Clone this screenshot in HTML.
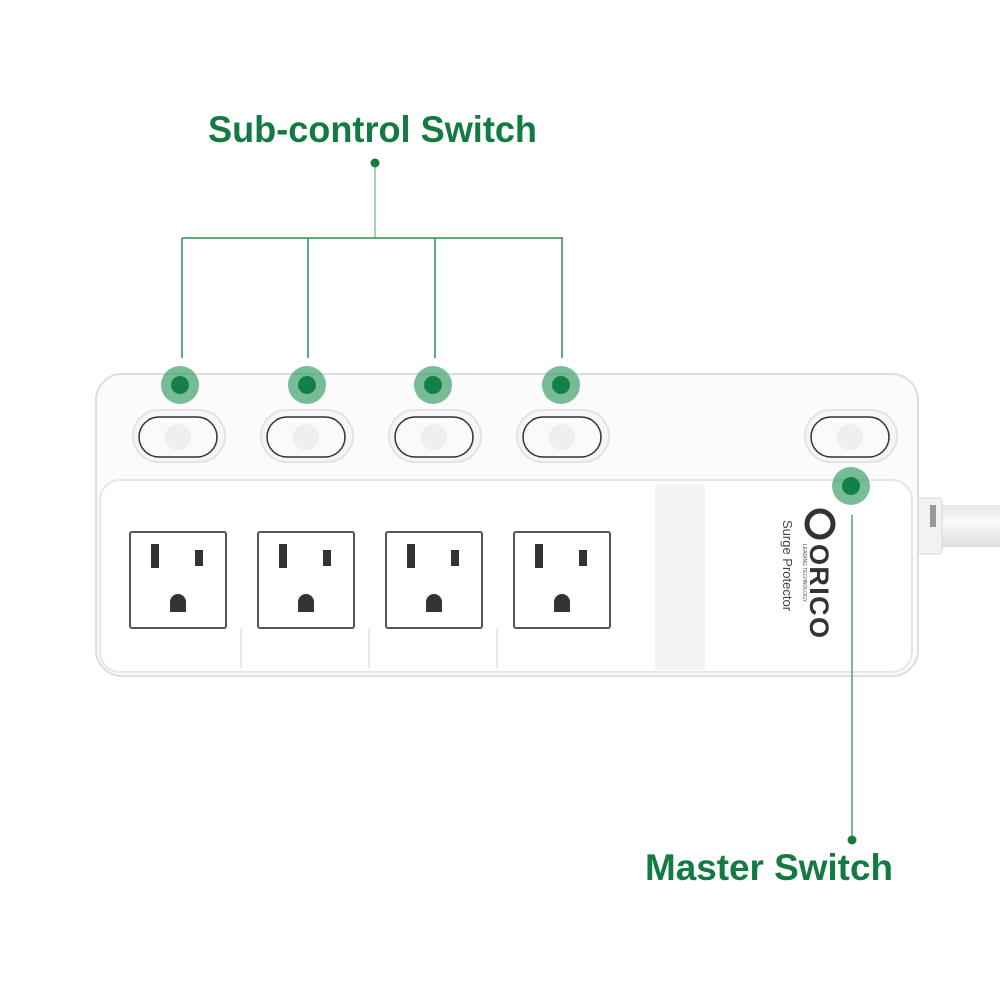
<!DOCTYPE html>
<html><head><meta charset="utf-8"><style>
html,body{margin:0;padding:0;background:#fff;width:1000px;height:1000px;overflow:hidden}
</style></head><body>
<svg width="1000" height="1000" viewBox="0 0 1000 1000" xmlns="http://www.w3.org/2000/svg">
<defs>
<linearGradient id="cord" x1="0" y1="0" x2="0" y2="1">
<stop offset="0" stop-color="#e6e6e6"/><stop offset="0.4" stop-color="#fafafa"/><stop offset="1" stop-color="#dedede"/>
</linearGradient>
</defs>
<!-- cord -->
<rect x="930" y="505" width="70" height="42" fill="url(#cord)"/>
<rect x="916" y="498" width="26" height="56" rx="3" fill="#f2f2f2" stroke="#d8d8d8"/>
<rect x="930" y="505" width="6" height="22" fill="#999"/>
<!-- body -->
<rect x="96" y="374" width="822" height="302" rx="26" fill="#fbfbfb" stroke="#dedede" stroke-width="2"/>
<rect x="100" y="480" width="812" height="192" rx="20" fill="#fff" stroke="#e6e6e6" stroke-width="2"/>
<rect x="655" y="484" width="50" height="186" fill="#f4f4f4"/>
<g stroke="#e8e8e8" stroke-width="2">
<line x1="241" y1="628" x2="241" y2="668"/><line x1="369" y1="628" x2="369" y2="668"/><line x1="497" y1="628" x2="497" y2="668"/>
</g>
<!-- switches -->
<g id="sw">
</g>
<g fill="#f6f6f6">
<rect x="133" y="410" width="92" height="52" rx="26" stroke="#e4e4e4" stroke-width="2"/>
<rect x="261" y="410" width="92" height="52" rx="26" stroke="#e4e4e4" stroke-width="2"/>
<rect x="389" y="410" width="92" height="52" rx="26" stroke="#e4e4e4" stroke-width="2"/>
<rect x="517" y="410" width="92" height="52" rx="26" stroke="#e4e4e4" stroke-width="2"/>
<rect x="805" y="410" width="92" height="52" rx="26" stroke="#e4e4e4" stroke-width="2"/>
</g>
<g fill="#fafafa" stroke="#333" stroke-width="1.5">
<rect x="139" y="417" width="78" height="40" rx="20"/>
<rect x="267" y="417" width="78" height="40" rx="20"/>
<rect x="395" y="417" width="78" height="40" rx="20"/>
<rect x="523" y="417" width="78" height="40" rx="20"/>
<rect x="811" y="417" width="78" height="40" rx="20"/>
</g>
<g fill="#efefef">
<circle cx="178" cy="437" r="13"/><circle cx="306" cy="437" r="13"/><circle cx="434" cy="437" r="13"/><circle cx="562" cy="437" r="13"/><circle cx="850" cy="437" r="13"/>
</g>
<!-- outlets -->
<g>
<g transform="translate(130,532)"><rect width="96" height="96" rx="2" fill="#fff" stroke="#555" stroke-width="2"/><rect x="21" y="12" width="8" height="24" fill="#333"/><rect x="65" y="18" width="8" height="16" fill="#333"/><path d="M40 80 v-10 a8 8 0 0 1 16 0 v10z" fill="#333"/></g>
<g transform="translate(258,532)"><rect width="96" height="96" rx="2" fill="#fff" stroke="#555" stroke-width="2"/><rect x="21" y="12" width="8" height="24" fill="#333"/><rect x="65" y="18" width="8" height="16" fill="#333"/><path d="M40 80 v-10 a8 8 0 0 1 16 0 v10z" fill="#333"/></g>
<g transform="translate(386,532)"><rect width="96" height="96" rx="2" fill="#fff" stroke="#555" stroke-width="2"/><rect x="21" y="12" width="8" height="24" fill="#333"/><rect x="65" y="18" width="8" height="16" fill="#333"/><path d="M40 80 v-10 a8 8 0 0 1 16 0 v10z" fill="#333"/></g>
<g transform="translate(514,532)"><rect width="96" height="96" rx="2" fill="#fff" stroke="#555" stroke-width="2"/><rect x="21" y="12" width="8" height="24" fill="#333"/><rect x="65" y="18" width="8" height="16" fill="#333"/><path d="M40 80 v-10 a8 8 0 0 1 16 0 v10z" fill="#333"/></g>
</g>
<!-- logo text rotated -->
<g transform="translate(820,510) rotate(90)">
<circle cx="14" cy="0" r="13" fill="none" stroke="#333" stroke-width="5"/>
<text x="34" y="10" font-family="Liberation Sans, sans-serif" font-weight="bold" font-size="27" fill="#333" textLength="94">ORICO</text>
<text x="34" y="17" font-family="Liberation Sans, sans-serif" font-size="5" fill="#555">LEADING TECHNOLOGY</text>
<text x="10" y="37" font-family="Liberation Sans, sans-serif" font-size="13" fill="#444">Surge Protector</text>
</g>
<!-- connectors -->
<g stroke="#2e8b57" stroke-width="1.5" fill="none">
<line x1="375" y1="163" x2="375" y2="238" stroke="#8cc3a2"/>
<line x1="182" y1="238" x2="563" y2="238"/>
<line x1="182" y1="238" x2="182" y2="358"/>
<line x1="308" y1="238" x2="308" y2="358"/>
<line x1="435" y1="238" x2="435" y2="358"/>
<line x1="562" y1="238" x2="562" y2="358"/>
<line x1="852" y1="515" x2="852" y2="840" stroke="#4f9e76"/>
</g>
<circle cx="375" cy="163" r="4.5" fill="#137b42"/>
<circle cx="852" cy="840" r="4.5" fill="#137b42"/>
<g fill="#2e9a60" fill-opacity="0.65">
<circle cx="180" cy="385" r="19"/><circle cx="307" cy="385" r="19"/><circle cx="433" cy="385" r="19"/><circle cx="561" cy="385" r="19"/><circle cx="851" cy="486" r="19"/>
</g>
<g fill="#138048">
<circle cx="180" cy="385" r="9"/><circle cx="307" cy="385" r="9"/><circle cx="433" cy="385" r="9"/><circle cx="561" cy="385" r="9"/><circle cx="851" cy="486" r="9"/>
</g>
<text x="208" y="142" font-family="Liberation Sans, sans-serif" font-weight="bold" font-size="37" fill="#137b42" textLength="329" lengthAdjust="spacingAndGlyphs">Sub-control Switch</text>
<text x="645" y="880" font-family="Liberation Sans, sans-serif" font-weight="bold" font-size="37" fill="#137b42" textLength="248" lengthAdjust="spacingAndGlyphs">Master Switch</text>
</svg>
</body></html>
